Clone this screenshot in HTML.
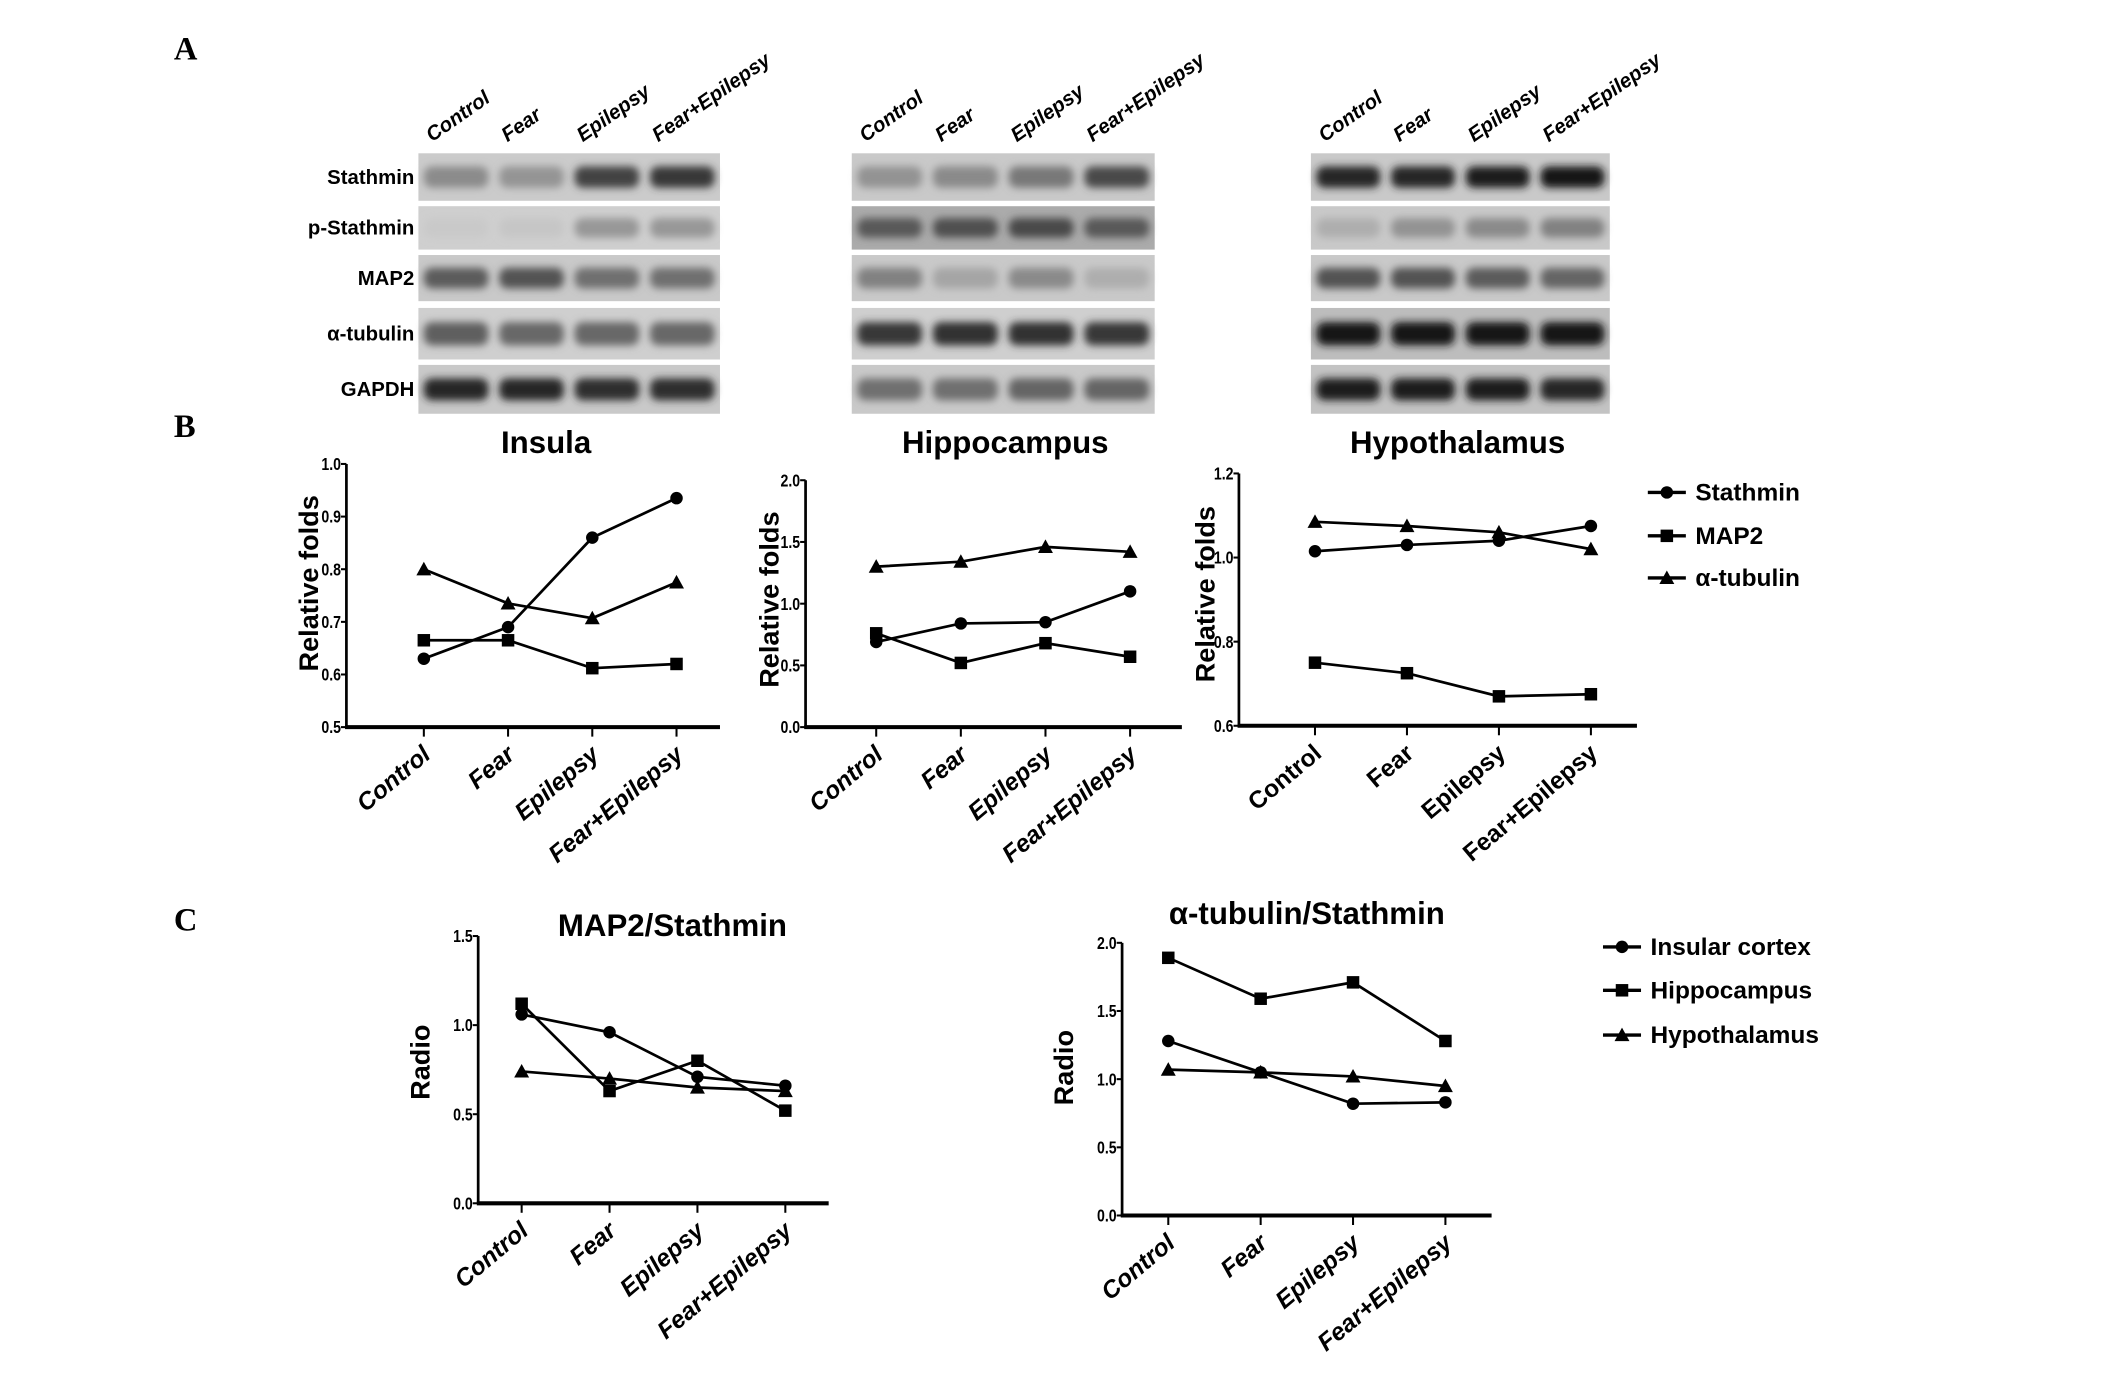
<!DOCTYPE html>
<html><head><meta charset="utf-8"><style>
html,body{margin:0;padding:0;background:#fff;}
svg{display:block;}
text{font-family:"Liberation Sans",sans-serif;fill:#000;}
</style></head><body>
<svg id="fig" width="2126" height="1381" viewBox="0 0 1565 1018" preserveAspectRatio="none" xmlns="http://www.w3.org/2000/svg">
<defs><filter id="blur" x="-20%" y="-50%" width="140%" height="200%"><feGaussianBlur stdDeviation="3"/></filter></defs>
<text x="128" y="44" font-weight="bold" font-size="24" style="font-family:'Liberation Serif',serif">A</text>
<text x="128" y="322" font-weight="bold" font-size="24" style="font-family:'Liberation Serif',serif">B</text>
<text x="128" y="686" font-weight="bold" font-size="24" style="font-family:'Liberation Serif',serif">C</text>
<g id="blots"></g>
<g id="charts"></g>
</svg>
<script>
const categories = ["Control","Fear","Epilepsy","Fear+Epilepsy"];
const blotRows = ["Stathmin","p-Stathmin","MAP2","α-tubulin","GAPDH"];
const blotInsula = [[0.35,0.3,0.75,0.8],[0.03,0.05,0.3,0.3],[0.6,0.65,0.5,0.5],[0.6,0.55,0.55,0.55],[0.9,0.9,0.85,0.85]];
const blotHippo = [[0.3,0.35,0.45,0.7],[0.55,0.6,0.65,0.55],[0.4,0.2,0.35,0.15],[0.8,0.85,0.85,0.8],[0.5,0.5,0.55,0.55]];
const blotHypo = [[0.9,0.9,0.95,1.0],[0.15,0.3,0.35,0.4],[0.65,0.65,0.6,0.55],[1.0,1.0,1.0,1.0],[0.95,0.95,0.95,0.9]];
const blotBg = [[0.18,0.15,0.2,0.15,0.2],[0.2,0.45,0.2,0.15,0.2],[0.2,0.2,0.2,0.3,0.25]];

const insStath=[0.63,0.69,0.86,0.935], insMap2=[0.665,0.665,0.612,0.62], insTub=[0.80,0.735,0.707,0.775];
const hipStath=[0.69,0.84,0.85,1.10], hipMap2=[0.76,0.52,0.68,0.57], hipTub=[1.30,1.34,1.46,1.42];
const hypStath=[1.015,1.03,1.04,1.075], hypMap2=[0.75,0.725,0.67,0.675], hypTub=[1.085,1.075,1.06,1.02];
const mapIns=[1.06,0.96,0.71,0.66], mapHip=[1.12,0.63,0.80,0.52], mapHyp=[0.74,0.70,0.65,0.63];
const tubIns=[1.28,1.05,0.82,0.83], tubHip=[1.89,1.59,1.71,1.28], tubHyp=[1.07,1.05,1.02,0.95];
const ticksIns=["0.5","0.6","0.7","0.8","0.9","1.0"];
const ticksHip=["0.0","0.5","1.0","1.5","2.0"];
const ticksHyp=["0.6","0.8","1.0","1.2"];
const ticksMap=["0.0","0.5","1.0","1.5"];
const ticksTub=["0.0","0.5","1.0","1.5","2.0"];

const NS="http://www.w3.org/2000/svg";
function mk(tag,attrs,parent){const e=document.createElementNS(NS,tag);for(const k in attrs)e.setAttribute(k,attrs[k]);parent.appendChild(e);return e;}

const blots=document.getElementById('blots');
const rowsY=[[113,148],[152,184],[188,222],[227,265],[269,305]];
const panels=[{x0:308,x1:530,d:blotInsula},{x0:627,x1:850,d:blotHippo},{x0:965,x1:1185,d:blotHypo}];
panels.forEach((p,pi)=>{
  const g=mk('g',{},blots);
  
  
  const lw=(p.x1-p.x0)/4;
  rowsY.forEach((r,ri)=>{
    const bg=Math.round(225-blotBg[pi][ri]*120);
    const rc=mk('rect',{x:p.x0,y:r[0],width:p.x1-p.x0,height:r[1]-r[0],fill:`rgb(${bg},${bg},${bg})`},g);
    
    
    p.d[ri].forEach((v,li)=>{
      const c=Math.round(bg-v*(bg-20));
      const h=(r[1]-r[0])*0.45;
      const b=mk('rect',{x:p.x0+li*lw+4,y:(r[0]+r[1])/2-h/2,width:lw-8,height:h,rx:6,fill:`rgb(${c},${c},${c})`,filter:'url(#blur)'},g);
      
      
    });
    if(pi===0){
      const t=mk('text',{x:305,y:(r[0]+r[1])/2+5,'text-anchor':'end','font-size':15,'font-weight':'bold'},g);
      t.textContent=blotRows[ri];
      
      
    }
  });
  categories.forEach((c,li)=>{
    const x=p.x0+li*lw+10, y=105;
    const t=mk('text',{x:x,y:y,'font-size':15,'font-weight':'bold','font-style':'italic',transform:`rotate(-35 ${x} ${y})`},g);
    t.textContent=c;
    
    
  });
});

const charts=document.getElementById('charts');
function marker(g,shape,x,y){
  let m;
  if(shape==='circle') m=mk('circle',{cx:x,cy:y,r:4.6,fill:'#000'},g);
  else if(shape==='square') m=mk('rect',{x:x-4.6,y:y-4.6,width:9.2,height:9.2,fill:'#000'},g);
  else m=mk('polygon',{points:`${x},${y-5.5} ${x-5.5},${y+4.5} ${x+5.5},${y+4.5}`,fill:'#000'},g);
  
  
}
function chart(o){
  const g=mk('g',{},charts);
  
  
  const ymin=parseFloat(o.ticks[0]), ymax=parseFloat(o.ticks[o.ticks.length-1]);
  const ys=v=>o.yb-(v-ymin)/(ymax-ymin)*(o.yb-o.yt);
  const xs=i=>o.x0+i*o.dx;
  const ya=mk('line',{x1:o.ax,y1:o.yt,x2:o.ax,y2:o.yb,stroke:'#000','stroke-width':2},g);
  
  const xa=mk('line',{x1:o.ax-1,y1:o.yb,x2:o.xe,y2:o.yb,stroke:'#000','stroke-width':3},g);
  
  o.ticks.forEach(tk=>{
    const y=ys(parseFloat(tk));
    mk('line',{x1:o.ax-4,y1:y,x2:o.ax,y2:y,stroke:'#000','stroke-width':1.5},g);
    const t=mk('text',{x:o.ax-4,y:y+4.5,'text-anchor':'end','font-size':13,'font-weight':'bold',transform:`translate(${(o.ax-4)*0.2} 0) scale(0.8 1)`},g);
    t.textContent=tk;
    
    
  });
  categories.forEach((c,i)=>{
    const x=xs(i);
    mk('line',{x1:x,y1:o.yb,x2:x,y2:o.yb+7,stroke:'#000','stroke-width':1.5},g);
    const y=o.yb+16;
    const t=mk('text',{x:x+6,y:y+6,'text-anchor':'end','font-size':18,'font-weight':'bold','font-style':o.italic?'italic':'normal',transform:`rotate(-40 ${x+6} ${y+6})`},g);
    t.textContent=c;
    
    
  });
  o.series.forEach(s=>{
    const sg=mk('g',{},g);
    
    
    mk('polyline',{points:s.v.map((v,i)=>xs(i)+','+ys(v)).join(' '),fill:'none',stroke:'#000','stroke-width':2},sg);
    s.v.forEach((v,i)=>marker(sg,s.shape,xs(i),ys(v)));
  });
  const tt=mk('text',{x:o.tx,y:o.ty,'text-anchor':'middle','font-size':23,'font-weight':'bold'},g);
  tt.textContent=o.title;
  
  
  const yt=mk('text',{x:o.ytx,y:o.yty,'text-anchor':'middle','font-size':20,'font-weight':'bold',transform:`rotate(-90 ${o.ytx} ${o.yty})`},g);
  yt.textContent=o.ytitle;
  
  
}
chart({name:'insula-chart',title:'Insula',tx:402,ty:334,ax:255,yt:342,yb:536,xe:530,x0:312,dx:62,ticks:ticksIns,italic:true,ytitle:'Relative folds',ytx:234,yty:430,
 series:[{v:insStath,shape:'circle'},{v:insMap2,shape:'square'},{v:insTub,shape:'tri'}]});
chart({name:'hippocampus-chart',title:'Hippocampus',tx:740,ty:334,ax:593,yt:354,yb:536,xe:870,x0:645,dx:62.3,ticks:ticksHip,italic:true,ytitle:'Relative folds',ytx:573,yty:442,
 series:[{v:hipStath,shape:'circle'},{v:hipMap2,shape:'square'},{v:hipTub,shape:'tri'}]});
chart({name:'hypothalamus-chart',title:'Hypothalamus',tx:1073,ty:334,ax:912,yt:349,yb:535,xe:1205,x0:968,dx:67.7,ticks:ticksHyp,italic:false,ytitle:'Relative folds',ytx:894,yty:438,
 series:[{v:hypStath,shape:'circle'},{v:hypMap2,shape:'square'},{v:hypTub,shape:'tri'}]});
chart({name:'map2-stathmin-chart',title:'MAP2/Stathmin',tx:495,ty:690,ax:352,yt:690,yb:887,xe:610,x0:384,dx:64.7,ticks:ticksMap,italic:true,ytitle:'Radio',ytx:316,yty:783,
 series:[{v:mapIns,shape:'circle'},{v:mapHip,shape:'square'},{v:mapHyp,shape:'tri'}]});
chart({name:'tubulin-stathmin-chart',title:'α-tubulin/Stathmin',tx:962,ty:681,ax:826,yt:695,yb:896,xe:1098,x0:860,dx:68,ticks:ticksTub,italic:true,ytitle:'Radio',ytx:790,yty:787,
 series:[{v:tubIns,shape:'circle'},{v:tubHip,shape:'square'},{v:tubHyp,shape:'tri'}]});

function legend(name,x,ys,labels){
  const g=mk('g',{},charts);
  
  
  const shapes=['circle','square','tri'];
  labels.forEach((l,i)=>{
    const eg=mk('g',{},g);
    
    
    mk('line',{x1:x,y1:ys[i],x2:x+28,y2:ys[i],stroke:'#000','stroke-width':2.5},eg);
    marker(eg,shapes[i],x+14,ys[i]);
    const t=mk('text',{x:x+35,y:ys[i]+6,'font-size':18,'font-weight':'bold'},eg);
    t.textContent=l;
  });
}
legend('legend-b',1213,[363,395,426],['Stathmin','MAP2','α-tubulin']);
legend('legend-c',1180,[698,730,763],['Insular cortex','Hippocampus','Hypothalamus']);
</script>
</body></html>
